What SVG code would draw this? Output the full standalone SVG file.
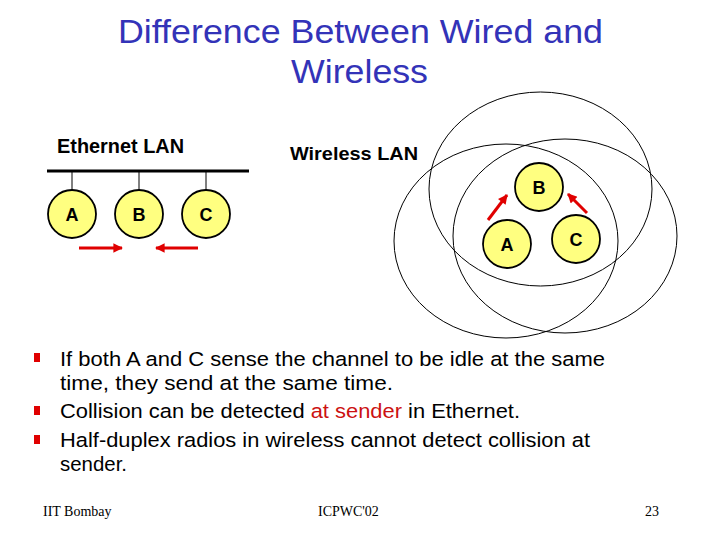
<svg xmlns="http://www.w3.org/2000/svg" width="720" height="540" viewBox="0 0 720 540">
<defs>
<style>
.title{font-family:"Liberation Sans",Arial,sans-serif;font-size:33px;fill:#3333B8}
.lbl{font-family:"Liberation Sans",Arial,sans-serif;font-weight:bold;fill:#000}
.node{fill:#FFFF80;stroke:#000;stroke-width:1.8}
.ntxt{font-family:"Liberation Sans",Arial,sans-serif;font-weight:bold;font-size:18px;fill:#000;text-anchor:middle}
.range{fill:none;stroke:#000;stroke-width:1}
.arrow{stroke:#E00000;stroke-width:3;fill:none;marker-end:url(#ah)}
.body{font-family:"Liberation Sans",Arial,sans-serif;font-size:20.5px;fill:#000}
.bul{fill:#E00000}
.foot{font-family:"Liberation Serif","Times New Roman",serif;font-size:14px;fill:#000}
</style>
<marker id="ah" viewBox="0 0 10 10" refX="9" refY="5" markerWidth="3.6" markerHeight="3.2" orient="auto" markerUnits="strokeWidth">
<path d="M0,0 L10,5 L0,10 z" fill="#E00000"/>
</marker>
</defs>
<rect width="720" height="540" fill="#fff"/>
<g id="title">
<text class="title" x="118" y="43" textLength="485" lengthAdjust="spacingAndGlyphs">Difference Between Wired and</text>
<text class="title" x="291" y="83" textLength="137" lengthAdjust="spacingAndGlyphs">Wireless</text>
</g>
<g id="ethernet-label"><text class="lbl" x="57" y="153" font-size="19.5" textLength="127" lengthAdjust="spacingAndGlyphs">Ethernet LAN</text></g>
<g id="wireless-label"><text class="lbl" x="290" y="160" font-size="18.5" textLength="128" lengthAdjust="spacingAndGlyphs">Wireless LAN</text></g>
<g id="ranges">
<ellipse class="range" cx="540.5" cy="189" rx="111.5" ry="97"/>
<ellipse class="range" cx="506" cy="241" rx="112" ry="97"/>
<ellipse class="range" cx="565" cy="236" rx="112" ry="97"/>
</g>
<g id="connectors">
<line x1="47" y1="171" x2="249" y2="171" stroke="#000" stroke-width="3"/>
<line x1="72" y1="171" x2="72" y2="190" stroke="#000" stroke-width="1"/>
<line x1="139" y1="171" x2="139" y2="190" stroke="#000" stroke-width="1"/>
<line x1="206" y1="171" x2="206" y2="190" stroke="#000" stroke-width="1"/>
<line class="arrow" x1="79" y1="248" x2="122" y2="248"/>
<line class="arrow" x1="198" y1="248" x2="156" y2="248"/>
<line class="arrow" x1="488" y1="220" x2="507" y2="195"/>
<line class="arrow" x1="587" y1="213" x2="568" y2="194"/>
</g>
<g id="eth-A"><circle class="node" cx="72" cy="214" r="24"/><text class="ntxt" x="72" y="221">A</text></g>
<g id="eth-B"><circle class="node" cx="139" cy="214" r="24"/><text class="ntxt" x="139" y="221">B</text></g>
<g id="eth-C"><circle class="node" cx="206" cy="214" r="24"/><text class="ntxt" x="206" y="221">C</text></g>
<g id="wl-B"><circle class="node" cx="539" cy="187" r="24"/><text class="ntxt" x="539" y="194">B</text></g>
<g id="wl-A"><circle class="node" cx="507" cy="244" r="24"/><text class="ntxt" x="507" y="251">A</text></g>
<g id="wl-C"><circle class="node" cx="576" cy="239" r="24"/><text class="ntxt" x="576" y="246">C</text></g>
<g id="bullets">
<rect class="bul" x="34" y="353" width="6" height="9"/>
<rect class="bul" x="34" y="406" width="6" height="9"/>
<rect class="bul" x="34" y="435" width="6" height="9"/>
<text class="body" x="60" y="366" textLength="545" lengthAdjust="spacingAndGlyphs">If both A and C sense the channel to be idle at the same</text>
<text class="body" x="60" y="390" textLength="333" lengthAdjust="spacingAndGlyphs">time, they send at the same time.</text>
<text class="body" x="60" y="418" textLength="460" lengthAdjust="spacingAndGlyphs">Collision can be detected <tspan fill="#CC1111">at sender</tspan> in Ethernet.</text>
<text class="body" x="60" y="447" textLength="530" lengthAdjust="spacingAndGlyphs">Half-duplex radios in wireless cannot detect collision at</text>
<text class="body" x="60" y="471" textLength="67" lengthAdjust="spacingAndGlyphs">sender.</text>
</g>
<g id="footer">
<text class="foot" x="43" y="516">IIT Bombay</text>
<text class="foot" x="318" y="516">ICPWC'02</text>
<text class="foot" x="645" y="516">23</text>
</g>
</svg>
